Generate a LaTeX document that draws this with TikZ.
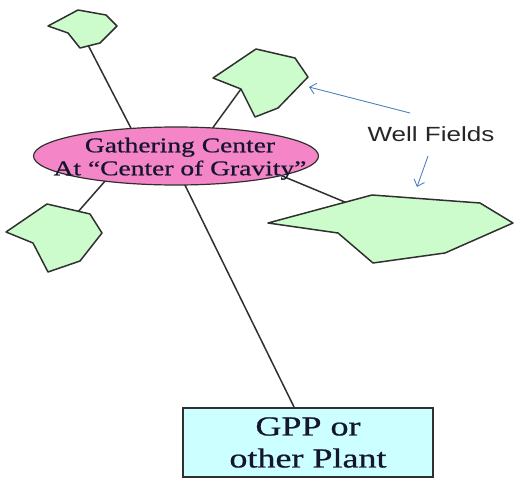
\documentclass[tikz,border=0pt]{standalone}
\usepackage{fontspec}
\usetikzlibrary{shapes.geometric,arrows.meta}
\newfontfamily\tnr[FakeStretch=1.31,FakeBold=0.7]{Liberation Serif}
\newfontfamily\arl[FakeStretch=1.27]{Liberation Sans}
\definecolor{linegray}{HTML}{303030}
\definecolor{fieldgreen}{HTML}{CCFCCC}
\definecolor{gcpink}{HTML}{F485C6}
\definecolor{plantcyan}{HTML}{CCFFFF}
\definecolor{textnavy}{HTML}{15152E}
\definecolor{calloutblue}{HTML}{4F81BD}
\begin{document}
\begin{tikzpicture}[x=1pt,y=-1pt,
  field/.style={draw=linegray, line width=1.5pt, fill=fieldgreen, line join=round},
  link/.style={draw=linegray, line width=1.5pt},
  callout/.style={draw=calloutblue, line width=0.9pt, -{Straight Barb[length=6pt,width=11pt]}},
  center/.style={ellipse, draw=linegray, line width=1.2pt, fill=gcpink, minimum width=285pt, minimum height=58pt, inner sep=0pt},
  centertext/.style={inner sep=0pt, align=center, text depth=0pt, text=textnavy, font=\tnr\fontsize{21}{23}\selectfont},
  plantbox/.style={rectangle, draw=linegray, line width=1.5pt, fill=plantcyan, minimum width=250pt, minimum height=69pt, inner sep=0pt, align=center, text=textnavy, font=\tnr\fontsize{27.5}{32}\selectfont}]
\useasboundingbox (0,0) rectangle (514,479);
% connector end points
\coordinate (f1) at (88,45);   \coordinate (g1) at (134,134);
\coordinate (f2) at (241,89);  \coordinate (g2) at (209,133);
\coordinate (f3) at (77,213);  \coordinate (g3) at (106,180);
\coordinate (f4) at (352,205); \coordinate (g4) at (275,173);
\coordinate (g5) at (181,177); \coordinate (p5) at (295,409);
% connectors
\draw[link] (f1) -- (g1);
\draw[link] (f2) -- (g2);
\draw[link] (f3) -- (g3);
\draw[link] (f4) -- (g4);
\draw[link] (g5) -- (p5);
% well fields
\draw[field] (48,26) -- (78,10) -- (106,15) -- (117,26) -- (100,43) -- (80,48) -- (68,33) -- cycle;
\draw[field] (213,78) -- (241,89) -- (255,117) -- (278,108) -- (308,77) -- (295,58) -- (256,49) -- cycle;
\draw[field] (6,232) -- (47,204) -- (90,214) -- (102,233) -- (80,261) -- (48,272) -- (33,243) -- cycle;
\draw[field] (268,223) -- (372,195) -- (480,203) -- (513,223) -- (445,253) -- (373,263) -- (338,233) -- cycle;
% gathering center
\node[center] (gc) at (176,156) {};
\node[centertext] (gct) at (180,156.5) {Gathering Center\\At “Center of Gravity”};
% plant
\node[plantbox] (plant) at (308,442.5) {GPP or\\other Plant};
% label and callouts
\node[anchor=base, inner sep=0pt, text=black!85, font=\arl\fontsize{20.5}{24}\selectfont] (wf) at (431,141) {Well Fields};
\coordinate (a1s) at (410,113); \coordinate (a1e) at (309,87);
\coordinate (a2s) at (428,156); \coordinate (a2e) at (417,187);
\draw[callout] (a1s) -- (a1e);
\draw[callout] (a2s) -- (a2e);
\end{tikzpicture}
\end{document}
